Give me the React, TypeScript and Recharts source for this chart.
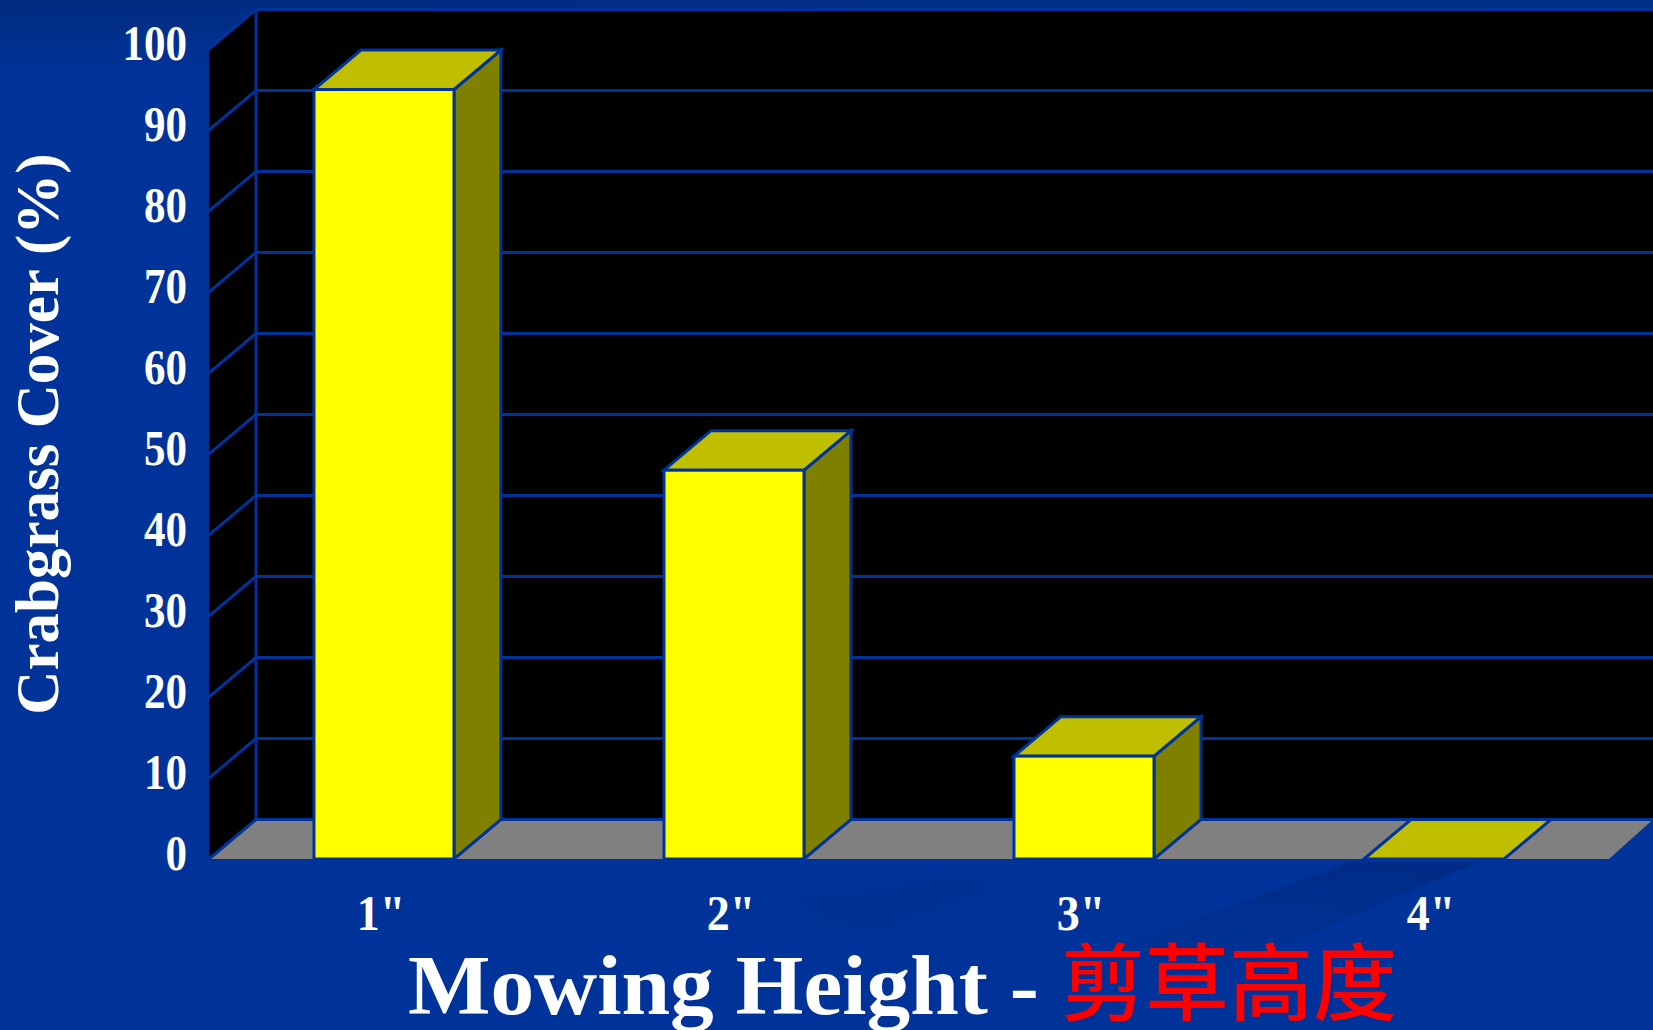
import React from "react";
import { ComposedChart, Bar, XAxis, YAxis, ReferenceArea, ReferenceLine, Label } from "recharts";

const categories = ['1"', '2"', '3"', '4"'];
const coverValues = [95, 48, 12.7, 0];
const yTicks = [0, 10, 20, 30, 40, 50, 60, 70, 80, 90, 100];
const yTitle = "Crabgrass Cover (%)";
const xTitleLatin = "Mowing Height -";
const xTitleCjk = "剪草高度";

const rows = categories.map((height, i) => ({ height, cover: coverValues[i] }));

const DX = 47;
const DY = 39.5;
const BLUE = "#003399";
const SERIF = "'Liberation Serif', serif";
const LINE = 3;

function Stage(props: any) {
  const { x, y, width, height } = props;
  const r = x + width;
  const b = y + height;
  const W = 1653;
  return (
    <g>
      <defs>
        <linearGradient id="topShade" x1="0" y1="0" x2="0.35" y2="1">
          <stop offset="0" stopColor="#002C80" />
          <stop offset="1" stopColor={BLUE} />
        </linearGradient>
        <linearGradient id="bandShade" x1="0.7" y1="0" x2="0.3" y2="1">
          <stop offset="0" stopColor="#002C88" />
          <stop offset="1" stopColor={BLUE} />
        </linearGradient>
        <linearGradient id="bandFaint" x1="1" y1="0" x2="0" y2="1">
          <stop offset="0" stopColor={BLUE} />
          <stop offset="0.5" stopColor="#003194" />
          <stop offset="1" stopColor={BLUE} />
        </linearGradient>
      </defs>
      <rect x={0} y={0} width={W} height={70} fill="url(#topShade)" />
      <polygon points="1351,862 1479,862 1190,985 1010,985" fill="url(#bandShade)" />
      <polygon points="1077,862 800,893 800,960" fill="url(#bandFaint)" />
      <polygon points={`${x},${y} ${x + DX},${y - DY} ${W},${y - DY} ${W},${b - DY} ${x + DX},${b - DY} ${x},${b}`} fill="#000" />
      <polygon points={`${x},${b} ${x + DX},${b - DY} ${W},${b - DY} ${r},${b}`} fill="#808080" />
      <line x1={x + DX} y1={y - DY} x2={x + DX} y2={b - DY} stroke={BLUE} strokeWidth={LINE} />
    </g>
  );
}

function GridLine(props: any) {
  const { x1, y1 } = props;
  return (
    <g>
      <line x1={x1} y1={y1} x2={x1 + DX} y2={y1 - DY} stroke={BLUE} strokeWidth={LINE} />
      <line x1={x1 + DX} y1={y1 - DY} x2={1653} y2={y1 - DY} stroke={BLUE} strokeWidth={LINE} />
    </g>
  );
}

function Box3D(props: any) {
  const { x, y, width, height } = props;
  const r = x + width;
  const b = y + height;
  const common = { stroke: BLUE, strokeWidth: LINE, strokeLinejoin: "miter" as const };
  return (
    <g>
      {height > 0 && <polygon points={`${r},${y} ${r + DX},${y - DY} ${r + DX},${b - DY} ${r},${b}`} fill="#808000" {...common} />}
      <polygon points={`${x},${y} ${x + DX},${y - DY} ${r + DX},${y - DY} ${r},${y}`} fill="#BFBF00" {...common} />
      {height > 0 && <rect x={x} y={y} width={width} height={height} fill="#FFFF00" {...common} />}
    </g>
  );
}

function YTick(props: any) {
  const { x, y, payload } = props;
  return (
    <text transform={`translate(${x - 14},${y + 11}) scale(0.86,1)`} textAnchor="end" fontFamily={SERIF} fontWeight={700} fontSize={50} fill="#fff">
      {payload.value}
    </text>
  );
}

function XTick(props: any) {
  const { x, y, payload } = props;
  return (
    <text transform={`translate(${x - 3},${y + 63}) scale(0.92,1)`} textAnchor="middle" fontFamily={SERIF} fontWeight={700} fontSize={50} fill="#fff">
      {payload.value}
    </text>
  );
}

function YTitle() {
  return (
    <text transform="translate(58,434) rotate(-90)" textAnchor="middle" fontFamily={SERIF} fontWeight={700} fontSize={61} fill="#fff">
      {yTitle}
    </text>
  );
}

function XTitle() {
  return (
    <g>
      <text transform="translate(408,1014) scale(1.04,1)" fontFamily={SERIF} fontWeight={700} fontSize={84} fill="#fff">
        {xTitleLatin}
      </text>
      <text x={1061} y={1014} fontFamily="'Noto Sans CJK SC', sans-serif" fontWeight={500} fontSize={84} fill="#FF0000">
        {xTitleCjk}
      </text>
    </g>
  );
}

export default function App() {
  return (
    <div style={{ position: "absolute", left: 0, top: 0, width: 1653, height: 1030, background: BLUE, overflow: "hidden" }}>
      <ComposedChart width={1653} height={1030} data={rows} margin={{ top: 49, right: 44, bottom: 0, left: 0 }} barSize={140}>
        <ReferenceArea y1={0} y2={100} shape={<Stage />} ifOverflow="visible" fill="none" zIndex={50} />
        {yTicks.map((t) => (
          <ReferenceLine key={t} y={t} shape={<GridLine />} ifOverflow="visible" zIndex={60} />
        ))}
        <XAxis dataKey="height" height={171} axisLine={false} tickLine={false} tick={<XTick />} interval={0}>
          <Label content={<XTitle />} />
        </XAxis>
        <YAxis width={209} domain={[0, 100]} ticks={yTicks} axisLine={false} tickLine={false} tick={<YTick />} interval={0}>
          <Label content={<YTitle />} />
        </YAxis>
        <Bar dataKey="cover" isAnimationActive={false} shape={<Box3D />} zIndex={300} />
      </ComposedChart>
    </div>
  );
}
